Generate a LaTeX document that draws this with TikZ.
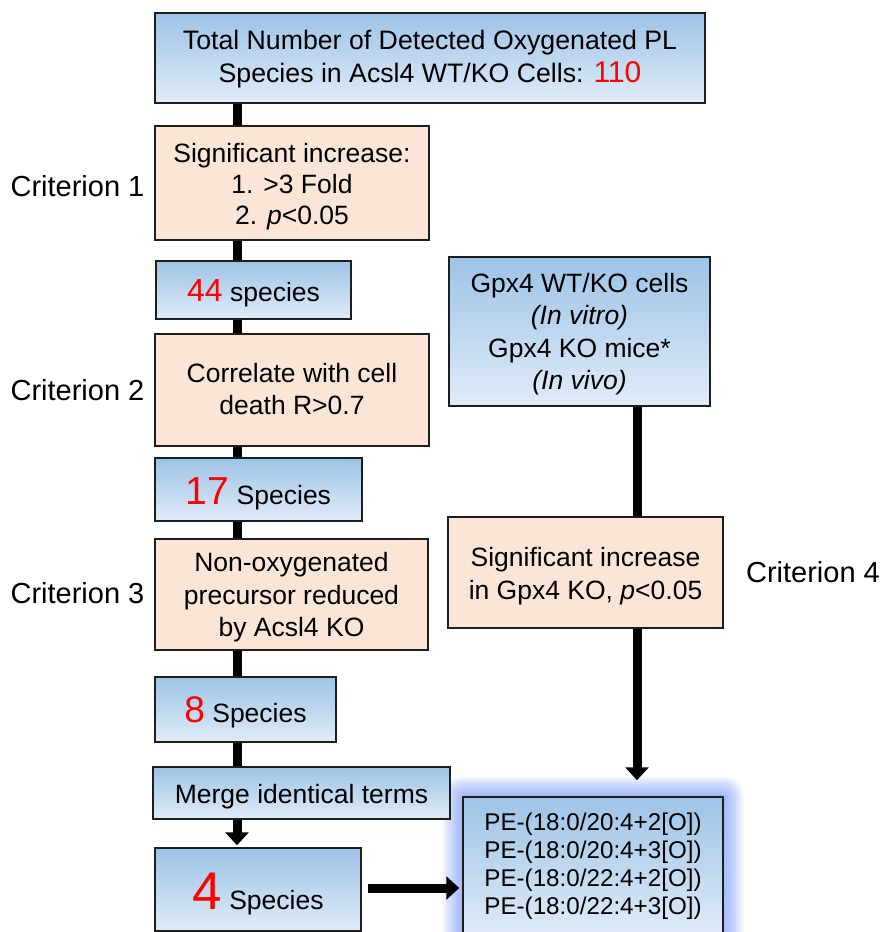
\documentclass[tikz,border=0pt]{standalone}
\usepackage{fontspec}
\setmainfont{Liberation Sans}
\usetikzlibrary{arrows.meta,calc,backgrounds}
\definecolor{bluetop}{RGB}{157,195,230}
\definecolor{bluebot}{RGB}{224,236,248}
\definecolor{peach}{RGB}{251,229,214}
\definecolor{glowc}{RGB}{105,140,248}
\definecolor{numred}{RGB}{255,0,0}
\definecolor{edgec}{RGB}{30,30,30}
\tikzset{
 box/.style={draw=edgec, line width=1.5pt, rectangle, inner sep=0pt},
 bluebox/.style={box, top color=bluetop, bottom color=bluebot},
 peachbox/.style={box, fill=peach},
 txt/.style={align=center, inner sep=0pt, font=\fontsize{26.5}{32.5}\selectfont},
 crit/.style={font=\fontsize{29}{34}\selectfont, inner sep=0pt},
 conn/.style={line width=9pt, black},
 arr/.style={conn, -{Triangle[length=13pt,width=23pt]}},
}
\newcommand{\rn}[2]{{\color{numred}\fontsize{#1}{#1}\selectfont #2}}
\begin{document}
\begin{tikzpicture}[x=1pt,y=-1pt]
\useasboundingbox (0,0) rectangle (883,932);
\clip (0,0) rectangle (883,932);
\coordinate (spine) at (237,0);
\coordinate (rspine) at (637,0);

\node[bluebox, minimum width=550pt, minimum height=90pt] (top) at (430,58) {};
\node[txt, font=\fontsize{26.7}{33}\selectfont] (topt) at ($(top)+(0,1)$)
  {Total Number of Detected Oxygenated PL\\Species in Acsl4 WT/KO Cells: \rn{30}{110}};
\node[peachbox, minimum width=274pt, minimum height=114pt] (c1) at (292,183) {};
\node[txt, font=\fontsize{26.5}{31}\selectfont] (c1t) at ($(c1)+(0,4)$)
  {Significant increase:\\1. >3 Fold\\2. \textit{p}<0.05};
\node[bluebox, minimum width=195pt, minimum height=58pt] (s44) at (253.5,290) {};
\node[txt] (s44t) at ($(s44)+(0,3)$) {\rn{32}{44} species};
\node[peachbox, minimum width=274pt, minimum height=112pt] (c2) at (292,390) {};
\node[txt] (c2t) at ($(c2)+(0,-1)$) {Correlate with cell\\death R>0.7};
\node[bluebox, minimum width=207pt, minimum height=63pt] (s17) at (258.5,489.5) {};
\node[txt] (s17t) at ($(s17)+(0,4)$) {\rn{39}{17} Species};
\node[peachbox, minimum width=273pt, minimum height=111pt] (c3) at (291.5,594.5) {};
\node[txt] (c3t) at ($(c3)+(0,3)$) {Non-oxygenated\\precursor reduced\\by Acsl4 KO};
\node[bluebox, minimum width=181pt, minimum height=65pt] (s8) at (245.5,709.5) {};
\node[txt] (s8t) at ($(s8)+(0,3)$) {\rn{37}{8} Species};
\node[bluebox, minimum width=297pt, minimum height=52pt] (merge) at (301.5,793) {};
\node[txt] (merget) at ($(merge)+(0,4)$) {Merge identical terms};
\node[bluebox, minimum width=206pt, minimum height=83pt] (s4) at (258,889.5) {};
\node[txt] (s4t) at ($(s4)+(0,5)$) {\rn{53}{4} Species};
\node[bluebox, minimum width=261pt, minimum height=149pt] (gpx) at (579.5,331.5) {};
\node[txt] (gpxt) at ($(gpx)+(0,2.5)$)
  {Gpx4 WT/KO cells\\\textit{(In vitro)}\\Gpx4 KO mice*\\\textit{(In vivo)}};
\node[peachbox, minimum width=275pt, minimum height=111pt] (c4) at (585.5,572.5) {};
\node[txt, font=\fontsize{26.5}{33.5}\selectfont] (c4t) at ($(c4)+(0,3.5)$)
  {Significant increase\\in Gpx4 KO, \textit{p}<0.05};
\node[bluebox, minimum width=260pt, minimum height=140pt] (res) at (593,867) {};
\node[txt, font=\fontsize{24.2}{28}\selectfont] (rest) at ($(res)+(0,-1)$)
  {PE-(18:0/20:4+2[O])\\PE-(18:0/20:4+3[O])\\PE-(18:0/22:4+2[O])\\PE-(18:0/22:4+3[O])};

\node[crit] (l1) at (77.5,186) {Criterion 1};
\node[crit] (l2) at (77.5,390) {Criterion 2};
\node[crit] (l3) at (77.5,593) {Criterion 3};
\node[crit] (l4) at (813,572) {Criterion 4};

\begin{scope}[on background layer]
\foreach \i in {1,...,20}{
  \fill[glowc, opacity=0.045, rounded corners=\i pt]
    ($(res.north west)+(-\i,-\i)$) rectangle ($(res.south east)+(\i,\i)$);
}
\end{scope}

\draw[conn] (spine |- top.south) -- (spine |- c1.north);
\draw[conn] (spine |- c1.south) -- (spine |- s44.north);
\draw[conn] (spine |- s44.south) -- (spine |- c2.north);
\draw[conn] (spine |- c2.south) -- (spine |- s17.north);
\draw[conn] (spine |- s17.south) -- (spine |- c3.north);
\draw[conn] (spine |- c3.south) -- (spine |- s8.north);
\draw[conn] (spine |- s8.south) -- (spine |- merge.north);
\draw[arr] (spine |- merge.south) -- ($(spine |- s4.north)+(0,-2)$);
\draw[conn] (rspine |- gpx.south) -- (rspine |- c4.north);
\draw[arr] (rspine |- c4.south) -- ($(rspine |- res.north)+(0,-16)$);
\draw[arr] ($(s4.east)+(6,-1.5)$) -- ($(res.west |- s4.east)+(-3,-1.5)$);
\end{tikzpicture}
\end{document}
